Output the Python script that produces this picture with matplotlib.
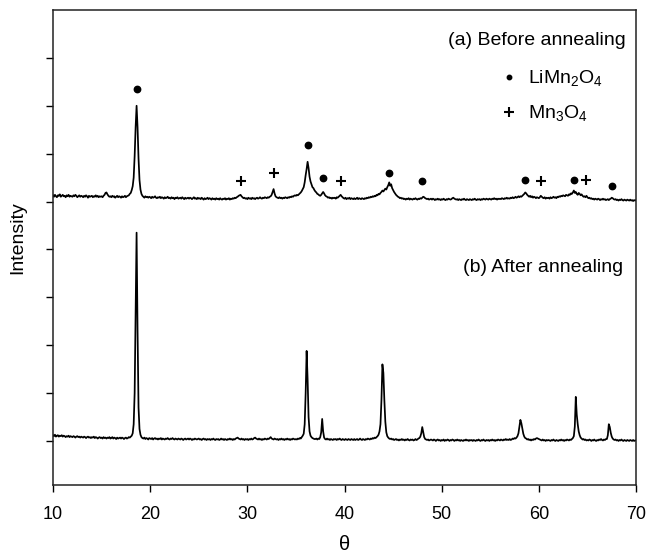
import matplotlib
matplotlib.use('Agg')
import matplotlib.pyplot as plt
import numpy as np

plt.rcParams['font.family'] = ['Liberation Sans', 'DejaVu Sans']
plt.rcParams['mathtext.fontset'] = 'custom'
plt.rcParams['mathtext.rm'] = 'Liberation Sans'

# 2-theta grid of the scans (0.1 deg steps)
theta = np.round(np.arange(10.0, 70.05, 0.1), 1)

# (a) before annealing, one row per degree (x.0 ... x.9)
before = [
    6.13, 6.10, 6.14, 6.11, 6.09, 6.13, 6.12, 6.15, 6.10, 6.12,
    6.14, 6.11, 6.12, 6.09, 6.13, 6.11, 6.14, 6.10, 6.12, 6.11,
    6.10, 6.13, 6.11, 6.14, 6.12, 6.09, 6.11, 6.13, 6.10, 6.12,
    6.11, 6.09, 6.12, 6.10, 6.13, 6.11, 6.08, 6.12, 6.10, 6.11,
    6.12, 6.09, 6.11, 6.10, 6.13, 6.10, 6.12, 6.09, 6.11, 6.10,
    6.11, 6.09, 6.12, 6.14, 6.18, 6.19, 6.15, 6.12, 6.10, 6.11,
    6.09, 6.12, 6.10, 6.11, 6.08, 6.10, 6.12, 6.09, 6.11, 6.10,
    6.08, 6.11, 6.09, 6.10, 6.12, 6.09, 6.11, 6.12, 6.13, 6.16,
    6.18, 6.24, 6.32, 6.50, 6.95, 7.55, 8.00, 7.55, 6.90, 6.45,
    6.25, 6.16, 6.12, 6.10, 6.08, 6.11, 6.09, 6.10, 6.08, 6.10,
    6.09, 6.07, 6.10, 6.08, 6.09, 6.11, 6.08, 6.07, 6.09, 6.08,
    6.10, 6.07, 6.09, 6.08, 6.06, 6.09, 6.07, 6.08, 6.10, 6.07,
    6.08, 6.06, 6.09, 6.07, 6.08, 6.05, 6.08, 6.07, 6.09, 6.06,
    6.07, 6.08, 6.06, 6.09, 6.07, 6.05, 6.08, 6.06, 6.07, 6.08,
    6.06, 6.08, 6.07, 6.05, 6.07, 6.09, 6.06, 6.07, 6.05, 6.08,
    6.06, 6.07, 6.05, 6.08, 6.06, 6.04, 6.07, 6.05, 6.06, 6.08,
    6.05, 6.07, 6.06, 6.04, 6.07, 6.05, 6.06, 6.04, 6.07, 6.05,
    6.06, 6.04, 6.07, 6.05, 6.04, 6.06, 6.05, 6.07, 6.04, 6.06,
    6.05, 6.07, 6.04, 6.06, 6.05, 6.07, 6.06, 6.08, 6.07, 6.09,
    6.10, 6.12, 6.13, 6.14, 6.11, 6.09, 6.07, 6.08, 6.06, 6.07,
    6.05, 6.08, 6.06, 6.07, 6.05, 6.08, 6.06, 6.07, 6.05, 6.07,
    6.08, 6.06, 6.07, 6.09, 6.07, 6.06, 6.08, 6.07, 6.09, 6.08,
    6.07, 6.09, 6.08, 6.10, 6.11, 6.14, 6.20, 6.26, 6.17, 6.11,
    6.09, 6.08, 6.07, 6.09, 6.07, 6.08, 6.06, 6.08, 6.07, 6.09,
    6.08, 6.07, 6.09, 6.08, 6.10, 6.09, 6.11, 6.10, 6.12, 6.13,
    6.12, 6.14, 6.13, 6.15, 6.17, 6.19, 6.22, 6.26, 6.30, 6.40,
    6.55, 6.68, 6.83, 6.70, 6.52, 6.42, 6.36, 6.30, 6.28, 6.24,
    6.21, 6.19, 6.16, 6.15, 6.13, 6.12, 6.14, 6.17, 6.20, 6.17,
    6.13, 6.11, 6.10, 6.08, 6.09, 6.07, 6.08, 6.06, 6.08, 6.07,
    6.08, 6.06, 6.09, 6.08, 6.10, 6.12, 6.14, 6.11, 6.09, 6.07,
    6.06, 6.08, 6.05, 6.07, 6.06, 6.08, 6.05, 6.07, 6.06, 6.05,
    6.07, 6.05, 6.06, 6.08, 6.05, 6.07, 6.06, 6.05, 6.07, 6.06,
    6.05, 6.07, 6.06, 6.08, 6.07, 6.09, 6.08, 6.10, 6.09, 6.11,
    6.10, 6.12, 6.11, 6.14, 6.13, 6.16, 6.15, 6.18, 6.20, 6.23,
    6.21, 6.24, 6.27, 6.25, 6.30, 6.34, 6.40, 6.33, 6.36, 6.28,
    6.24, 6.20, 6.17, 6.14, 6.12, 6.10, 6.09, 6.07, 6.08, 6.06,
    6.07, 6.05, 6.06, 6.04, 6.06, 6.05, 6.07, 6.04, 6.06, 6.05,
    6.04, 6.06, 6.05, 6.07, 6.05, 6.04, 6.06, 6.05, 6.07, 6.06,
    6.08, 6.10, 6.09, 6.07, 6.06, 6.05, 6.06, 6.04, 6.05, 6.06,
    6.04, 6.06, 6.05, 6.03, 6.05, 6.04, 6.06, 6.04, 6.05, 6.03,
    6.05, 6.04, 6.06, 6.04, 6.03, 6.05, 6.04, 6.06, 6.05, 6.04,
    6.05, 6.07, 6.08, 6.06, 6.05, 6.04, 6.05, 6.03, 6.05, 6.04,
    6.03, 6.05, 6.04, 6.06, 6.04, 6.03, 6.05, 6.04, 6.03, 6.05,
    6.04, 6.03, 6.05, 6.04, 6.06, 6.04, 6.03, 6.05, 6.04, 6.05,
    6.03, 6.05, 6.04, 6.06, 6.05, 6.04, 6.06, 6.05, 6.04, 6.06,
    6.05, 6.04, 6.06, 6.05, 6.07, 6.05, 6.06, 6.04, 6.06, 6.05,
    6.06, 6.05, 6.07, 6.06, 6.05, 6.07, 6.06, 6.08, 6.06, 6.07,
    6.06, 6.08, 6.07, 6.09, 6.07, 6.08, 6.10, 6.08, 6.09, 6.11,
    6.09, 6.11, 6.10, 6.12, 6.14, 6.16, 6.19, 6.17, 6.14, 6.12,
    6.10, 6.12, 6.09, 6.11, 6.08, 6.10, 6.09, 6.07, 6.09, 6.08,
    6.07, 6.09, 6.12, 6.10, 6.08, 6.07, 6.09, 6.06, 6.08, 6.07,
    6.08, 6.06, 6.09, 6.07, 6.08, 6.10, 6.08, 6.09, 6.07, 6.10,
    6.09, 6.11, 6.10, 6.12, 6.11, 6.13, 6.12, 6.11, 6.14, 6.13,
    6.12, 6.15, 6.14, 6.17, 6.16, 6.19, 6.23, 6.18, 6.20, 6.16,
    6.14, 6.18, 6.16, 6.13, 6.15, 6.12, 6.10, 6.11, 6.09, 6.12,
    6.09, 6.07, 6.08, 6.06, 6.07, 6.05, 6.06, 6.04, 6.06, 6.05,
    6.04, 6.06, 6.05, 6.03, 6.05, 6.04, 6.06, 6.04, 6.05, 6.03,
    6.04, 6.05, 6.03, 6.05, 6.06, 6.08, 6.07, 6.05, 6.04, 6.05,
    6.03, 6.04, 6.02, 6.04, 6.03, 6.05, 6.03, 6.02, 6.04, 6.03,
    6.02, 6.04, 6.03, 6.02, 6.04, 6.02, 6.03, 6.01, 6.03, 6.02,
    6.03,
]

# (b) after annealing
after = [
    1.12, 1.10, 1.13, 1.09, 1.11, 1.12, 1.09, 1.11, 1.10, 1.12,
    1.09, 1.11, 1.10, 1.08, 1.10, 1.09, 1.11, 1.08, 1.10, 1.09,
    1.08, 1.10, 1.09, 1.07, 1.09, 1.10, 1.08, 1.09, 1.07, 1.09,
    1.08, 1.07, 1.09, 1.08, 1.06, 1.08, 1.09, 1.07, 1.08, 1.06,
    1.08, 1.07, 1.09, 1.06, 1.08, 1.07, 1.05, 1.07, 1.08, 1.06,
    1.07, 1.05, 1.08, 1.06, 1.07, 1.05, 1.07, 1.06, 1.08, 1.05,
    1.06, 1.08, 1.05, 1.07, 1.06, 1.04, 1.07, 1.05, 1.06, 1.07,
    1.05, 1.07, 1.06, 1.04, 1.06, 1.07, 1.05, 1.06, 1.08, 1.07,
    1.09, 1.11, 1.16, 1.35, 2.00, 3.60, 5.35, 3.30, 1.70, 1.25,
    1.13, 1.08, 1.06, 1.05, 1.07, 1.04, 1.06, 1.05, 1.03, 1.06,
    1.05, 1.04, 1.06, 1.03, 1.05, 1.06, 1.04, 1.05, 1.03, 1.05,
    1.04, 1.06, 1.03, 1.05, 1.04, 1.03, 1.05, 1.04, 1.06, 1.04,
    1.03, 1.05, 1.04, 1.06, 1.04, 1.03, 1.05, 1.04, 1.03, 1.05,
    1.04, 1.03, 1.05, 1.04, 1.02, 1.04, 1.05, 1.03, 1.04, 1.05,
    1.03, 1.05, 1.04, 1.02, 1.04, 1.03, 1.05, 1.04, 1.03, 1.04,
    1.05, 1.03, 1.04, 1.02, 1.04, 1.05, 1.03, 1.04, 1.02, 1.04,
    1.03, 1.04, 1.02, 1.04, 1.03, 1.05, 1.03, 1.02, 1.04, 1.03,
    1.04, 1.02, 1.03, 1.05, 1.03, 1.04, 1.02, 1.04, 1.03, 1.02,
    1.04, 1.03, 1.05, 1.03, 1.04, 1.02, 1.04, 1.03, 1.05, 1.06,
    1.07, 1.05, 1.04, 1.03, 1.05, 1.03, 1.04, 1.02, 1.04, 1.03,
    1.04, 1.02, 1.04, 1.03, 1.05, 1.03, 1.04, 1.06, 1.07, 1.05,
    1.04, 1.03, 1.05, 1.03, 1.04, 1.02, 1.04, 1.03, 1.05, 1.04,
    1.03, 1.05, 1.04, 1.06, 1.08, 1.05, 1.04, 1.03, 1.05, 1.04,
    1.03, 1.04, 1.02, 1.04, 1.03, 1.05, 1.03, 1.04, 1.02, 1.04,
    1.03, 1.05, 1.03, 1.04, 1.02, 1.04, 1.03, 1.05, 1.04, 1.03,
    1.04, 1.03, 1.05, 1.04, 1.06, 1.05, 1.08, 1.11, 1.15, 1.35,
    2.00, 2.88, 2.30, 1.50, 1.20, 1.11, 1.08, 1.06, 1.05, 1.04,
    1.04, 1.05, 1.03, 1.05, 1.04, 1.08, 1.18, 1.46, 1.20, 1.07,
    1.04, 1.03, 1.05, 1.03, 1.04, 1.02, 1.04, 1.03, 1.02, 1.04,
    1.03, 1.04, 1.02, 1.04, 1.03, 1.05, 1.03, 1.02, 1.04, 1.03,
    1.02, 1.04, 1.03, 1.02, 1.04, 1.03, 1.02, 1.04, 1.03, 1.02,
    1.04, 1.02, 1.03, 1.04, 1.02, 1.03, 1.05, 1.03, 1.02, 1.04,
    1.03, 1.02, 1.04, 1.03, 1.05, 1.04, 1.03, 1.05, 1.04, 1.06,
    1.05, 1.07, 1.06, 1.08, 1.10, 1.13, 1.20, 1.35, 1.85, 2.60,
    2.42, 1.85, 1.40, 1.18, 1.10, 1.07, 1.05, 1.04, 1.05, 1.03,
    1.04, 1.02, 1.03, 1.04, 1.02, 1.03, 1.01, 1.03, 1.02, 1.04,
    1.02, 1.03, 1.01, 1.03, 1.02, 1.04, 1.02, 1.01, 1.03, 1.02,
    1.03, 1.01, 1.02, 1.04, 1.02, 1.03, 1.05, 1.06, 1.09, 1.16,
    1.29, 1.18, 1.08, 1.04, 1.03, 1.02, 1.03, 1.01, 1.02, 1.03,
    1.02, 1.01, 1.03, 1.02, 1.00, 1.02, 1.03, 1.01, 1.02, 1.00,
    1.02, 1.01, 1.03, 1.00, 1.02, 1.01, 1.03, 1.02, 1.00, 1.02,
    1.01, 1.03, 1.02, 1.00, 1.02, 1.01, 1.03, 1.01, 1.02, 1.00,
    1.02, 1.01, 1.00, 1.02, 1.01, 1.03, 1.01, 1.02, 1.00, 1.02,
    1.01, 1.02, 1.00, 1.02, 1.01, 1.00, 1.02, 1.01, 1.03, 1.01,
    1.00, 1.02, 1.01, 1.03, 1.01, 1.00, 1.02, 1.01, 1.02, 1.00,
    1.02, 1.01, 1.03, 1.01, 1.02, 1.00, 1.02, 1.01, 1.03, 1.02,
    1.01, 1.03, 1.02, 1.01, 1.03, 1.02, 1.04, 1.02, 1.03, 1.02,
    1.04, 1.02, 1.03, 1.05, 1.04, 1.06, 1.05, 1.07, 1.10, 1.16,
    1.30, 1.44, 1.37, 1.26, 1.15, 1.09, 1.06, 1.05, 1.03, 1.04,
    1.02, 1.03, 1.01, 1.03, 1.02, 1.04, 1.03, 1.05, 1.06, 1.05,
    1.04, 1.03, 1.02, 1.01, 1.03, 1.01, 1.02, 1.00, 1.02, 1.01,
    1.02, 1.01, 1.00, 1.02, 1.01, 1.03, 1.01, 1.00, 1.02, 1.01,
    1.00, 1.02, 1.01, 1.03, 1.01, 1.02, 1.00, 1.02, 1.01, 1.03,
    1.02, 1.01, 1.03, 1.02, 1.04, 1.06, 1.10, 1.30, 1.92, 1.55,
    1.35, 1.20, 1.12, 1.07, 1.05, 1.03, 1.04, 1.02, 1.03, 1.01,
    1.02, 1.01, 1.03, 1.02, 1.00, 1.02, 1.01, 1.03, 1.01, 1.00,
    1.02, 1.01, 1.03, 1.02, 1.04, 1.02, 1.01, 1.03, 1.02, 1.04,
    1.04, 1.12, 1.35, 1.29, 1.17, 1.09, 1.05, 1.03, 1.02, 1.03,
    1.01, 1.02, 1.00, 1.02, 1.01, 1.03, 1.01, 1.00, 1.02, 1.01,
    1.00, 1.02, 1.01, 1.00, 1.02, 1.01, 1.00, 1.02, 1.00, 1.01,
    1.01,
]

# peak labels on scan (a)
spinel_theta = [18.6, 36.2, 37.8, 44.6, 48.0, 58.6, 63.6, 67.5]
spinel_y = [8.35, 7.19, 6.50, 6.60, 6.42, 6.46, 6.46, 6.33]
hausm_theta = [29.3, 32.7, 39.6, 60.2, 64.9]
hausm_y = [6.42, 6.60, 6.42, 6.42, 6.44]

fig = plt.figure(figsize=(6.49, 5.56), dpi=100)
ax = fig.add_axes([0.0817, 0.1277, 0.8983, 0.8543])

ax.plot(theta, before, color='black', lw=1.25)
ax.plot(theta, after, color='black', lw=1.25)

ax.plot(spinel_theta, spinel_y, 'o', color='black', ms=4.6, ls='none')
ax.plot(hausm_theta, hausm_y, '+', color='black', ms=7, mew=1.5, ls='none')

# key
ax.plot([56.9], [8.6], 'o', color='black', ms=3.2)
ax.plot([56.95], [7.875], '+', color='black', ms=7, mew=1.5)
ax.text(68.97, 9.36, '(a) Before annealing', ha='right', va='center', fontsize=14)
ax.text(58.87, 8.47, r'LiMn$_2$O$_4$', ha='left', va='baseline', fontsize=14)
ax.text(58.87, 7.735, r'Mn$_3$O$_4$', ha='left', va='baseline', fontsize=14)
ax.text(68.66, 4.625, '(b) After annealing', ha='right', va='center', fontsize=14)

ax.set_xlim(10, 70)
ax.set_ylim(0.08, 10)
ax.set_xticks(range(10, 71, 10))
ax.set_yticks(range(1, 10))
ax.set_yticklabels([])
ax.tick_params(direction='out', length=5, width=1, labelsize=13, pad=10)
for s in ax.spines.values():
    s.set_linewidth(1.1)
    s.set_color('#222222')

ax.set_xlabel('θ', fontsize=14.5, labelpad=9)
ax.set_ylabel('Intensity', fontsize=14)
ax.yaxis.set_label_coords(-0.046, 0.52)

fig.savefig('out.png', dpi=100)
